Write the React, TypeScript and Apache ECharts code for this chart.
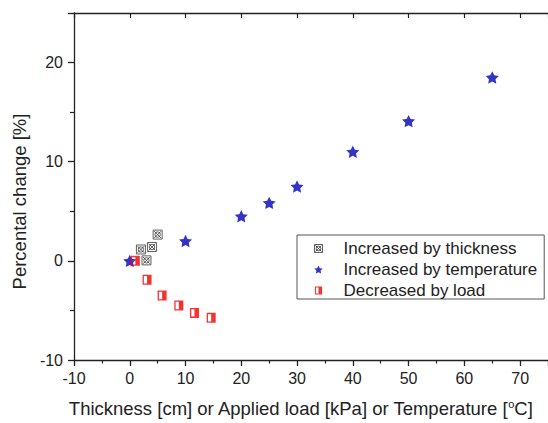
import React, { useEffect, useRef } from 'react';
import * as echarts from 'echarts';

// Data
const thicknessX = [2, 3, 4, 5];
const thicknessY = [1.15, 0.05, 1.4, 2.65];
const temperatureX = [0, 10, 20, 25, 30, 40, 50, 65];
const temperatureY = [0, 2.0, 4.5, 5.85, 7.5, 11.0, 14.1, 18.5];
const loadX = [1, 3.1, 5.8, 8.8, 11.6, 14.6];
const loadY = [0, -1.9, -3.5, -4.5, -5.25, -5.75];

const seriesNames = ['Increased by thickness', 'Increased by temperature', 'Decreased by load'];
const xAxisName = 'Thickness [cm] or Applied load [kPa] or Temperature [{sup|o}C]';
const yAxisName = 'Percental change [%]';

const FONT = '"Liberation Sans", Arial, Helvetica, sans-serif';

const crossSquare = 'path://M0 0H10V10H0ZM1.2 1.2L8.8 8.8M8.8 1.2L1.2 8.8M2 5A3 3 0 1 0 8 5A3 3 0 1 0 2 5Z';
const star = 'path://M10 0L12.94 5.95L19.51 6.91L14.76 11.55L15.88 18.09L10 15L4.12 18.09L5.24 11.55L0.49 6.91L7.06 5.95Z';
const halfSquare = 'path://M0 0H9V10H0ZM1.3 1.3V8.7H7.7V1.3ZM4.5 0H9V10H4.5Z';

const crossStyle = { color: 'rgba(0,0,0,0)', borderColor: '#3a3a3a', borderWidth: 1 };
const starColor = '#0000b8';
const redColor = '#f00000';

const zip = (xs: number[], ys: number[]) => xs.map((x, i) => [x, ys[i]]);

export default function App() {
  const ref = useRef<HTMLDivElement>(null);
  useEffect(() => {
    document.body.style.margin = '0';
    const chart = echarts.init(ref.current!, undefined, { renderer: 'svg' });
    const axisLine = { show: true, onZero: false, lineStyle: { color: '#222', width: 1.3 } };
    chart.setOption({
      animation: false,
      backgroundColor: '#fff',
      textStyle: { fontFamily: FONT },
      grid: { left: 74, top: 13, bottom: 61, right: -2, containLabel: false },
      xAxis: [
        {
          type: 'value',
          min: -10,
          max: 75,
          interval: 10,
          position: 'bottom',
          name: xAxisName,
          nameLocation: 'middle',
          nameGap: 39,
          nameTextStyle: {
            fontSize: 18.5,
            color: '#222',
            fontFamily: FONT,
            padding: [0, 21, 0, 0],
            rich: {
              sup: {
                fontSize: 11,
                verticalAlign: 'bottom',
                lineHeight: 11,
                padding: [0, 0, 9, 0],
                color: '#222',
                fontFamily: FONT,
              },
            },
          },
          axisLine,
          axisTick: { show: true, inside: false, length: 6, lineStyle: { color: '#222', width: 1.3 } },
          minorTick: { show: true, splitNumber: 2, length: 3.5, lineStyle: { color: '#222', width: 1.2 } },
          axisLabel: { fontSize: 16, color: '#222', margin: 10, fontFamily: FONT, showMaxLabel: false },
          splitLine: { show: false },
        },
        {
          type: 'value',
          min: -10,
          max: 75,
          interval: 10,
          position: 'top',
          axisLine,
          axisTick: { show: true, inside: true, length: 5, lineStyle: { color: '#222', width: 1.2 } },
          minorTick: { show: false },
          axisLabel: { show: false },
          splitLine: { show: false },
        },
      ],
      yAxis: {
        type: 'value',
        min: -10,
        max: 25,
        interval: 10,
        name: yAxisName,
        nameLocation: 'middle',
        nameGap: 44,
        nameTextStyle: { fontSize: 18.5, color: '#222', fontFamily: FONT, padding: [0, 30, 0, 0] },
        axisLine,
        axisTick: { show: true, inside: false, length: 6, lineStyle: { color: '#222', width: 1.3 } },
        minorTick: { show: true, splitNumber: 2, length: 4, lineStyle: { color: '#222', width: 1.2 } },
        axisLabel: { fontSize: 16, color: '#222', margin: 11, fontFamily: FONT, showMaxLabel: false },
        splitLine: { show: false },
      },
      legend: {
        orient: 'vertical',
        left: 297,
        top: 235,
        padding: [5, 7, 0, 17],
        itemGap: 4,
        itemWidth: 40,
        itemHeight: 8,
        symbolKeepAspect: true,
        borderColor: '#555',
        borderWidth: 1,
        backgroundColor: '#fff',
        textStyle: { fontSize: 17, color: '#222', fontFamily: FONT },
        data: [
          { name: seriesNames[0], icon: crossSquare, itemStyle: crossStyle },
          { name: seriesNames[1], icon: star, itemStyle: { color: starColor } },
          { name: seriesNames[2], icon: halfSquare, itemStyle: { color: redColor } },
        ],
      },
      series: [
        {
          name: seriesNames[0],
          type: 'scatter',
          data: zip(thicknessX, thicknessY),
          symbol: crossSquare,
          symbolSize: 9,
          symbolKeepAspect: true,
          itemStyle: crossStyle,
          z: 2,
        },
        {
          name: seriesNames[1],
          type: 'scatter',
          data: zip(temperatureX, temperatureY),
          symbol: star,
          symbolSize: 13,
          symbolKeepAspect: true,
          itemStyle: { color: starColor },
          z: 3,
        },
        {
          name: seriesNames[2],
          type: 'scatter',
          data: zip(loadX, loadY),
          symbol: halfSquare,
          symbolSize: [9, 10],
          itemStyle: { color: redColor },
          z: 4,
        },
      ],
    });
    return () => chart.dispose();
  }, []);
  return <div ref={ref} style={{ width: 548, height: 423 }} />;
}
